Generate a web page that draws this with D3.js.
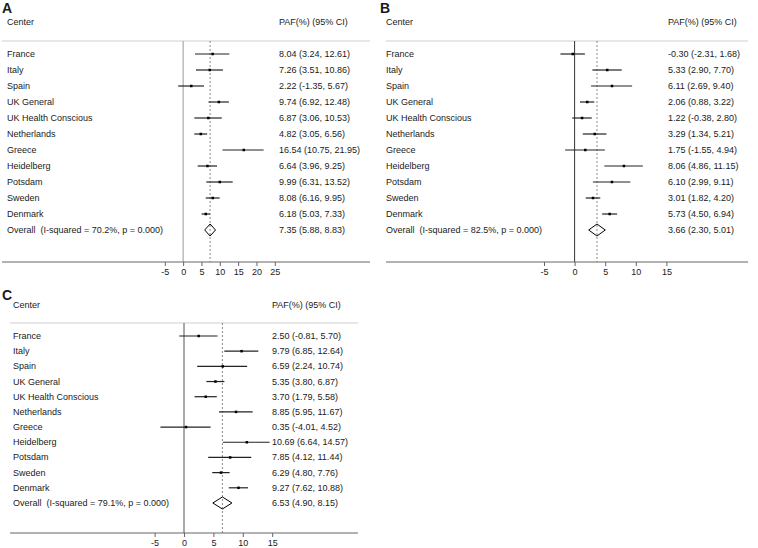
<!DOCTYPE html>
<html>
<head>
<meta charset="utf-8">
<script src="https://cdn.jsdelivr.net/npm/d3@7"></script>
<style>
  html, body { margin: 0; padding: 0; background: #fff; }
  svg { display: block; }
  text { font-family: "Liberation Sans", Arial, sans-serif; fill: #1a1a1a; }
</style>
</head>
<body>
<svg id="chart" width="758" height="548"></svg>
<script>
// ---------- data ----------
const centers = ["France", "Italy", "Spain", "UK General", "UK Health Conscious", "Netherlands",
                 "Greece", "Heidelberg", "Potsdam", "Sweden", "Denmark"];

const estA = [8.04, 7.26, 2.22, 9.74, 6.87, 4.82, 16.54, 6.64, 9.99, 8.08, 6.18];
const loA  = [3.24, 3.51, -1.35, 6.92, 3.06, 3.05, 10.75, 3.96, 6.31, 6.16, 5.03];
const hiA  = [12.61, 10.86, 5.67, 12.48, 10.53, 6.56, 21.95, 9.25, 13.52, 9.95, 7.33];
const overallA = [7.35, 5.88, 8.83];
const isqA = "70.2%";

const estB = [-0.30, 5.33, 6.11, 2.06, 1.22, 3.29, 1.75, 8.06, 6.10, 3.01, 5.73];
const loB  = [-2.31, 2.90, 2.69, 0.88, -0.38, 1.34, -1.55, 4.86, 2.99, 1.82, 4.50];
const hiB  = [1.68, 7.70, 9.40, 3.22, 2.80, 5.21, 4.94, 11.15, 9.11, 4.20, 6.94];
const overallB = [3.66, 2.30, 5.01];
const isqB = "82.5%";

const estC = [2.50, 9.79, 6.59, 5.35, 3.70, 8.85, 0.35, 10.69, 7.85, 6.29, 9.27];
const loC  = [-0.81, 6.85, 2.24, 3.80, 1.79, 5.95, -4.01, 6.64, 4.12, 4.80, 7.62];
const hiC  = [5.70, 12.64, 10.74, 6.87, 5.58, 11.67, 4.52, 14.57, 11.44, 7.76, 10.88];
const overallC = [6.53, 4.90, 8.15];
const isqC = "79.1%";

const ticksA = [-5, 0, 5, 10, 15, 20, 25];
const ticksB = [-5, 0, 5, 10, 15];
const ticksC = [-5, 0, 5, 10, 15];

const headerLeft = "Center";
const headerRight = "PAF(%) (95% CI)";

// ---------- drawing ----------
const svg = d3.select("#chart");
const locale = d3.formatLocale({decimal: ".", thousands: ",", grouping: [3], currency: ["", ""], minus: "-"});
const fmt = locale.format(".2f");
const fmtInt = locale.format("d");

function drawPanel(p) {
  const g = svg.append("g");
  const n = p.est.length;
  const x = d3.scaleLinear().domain(p.domain).range(p.range);
  const y = d3.scaleLinear().domain([0, n]).range([p.row0, p.row0 + n * p.step]);

  // panel letter
  g.append("text").attr("x", p.letterX).attr("y", p.letterY)
    .attr("font-size", 14).attr("font-weight", "bold").text(p.letter);

  // headers
  g.append("text").attr("x", p.textX).attr("y", p.headY).attr("font-size", 9).text(headerLeft);
  g.append("text").attr("x", p.ciX).attr("y", p.headY).attr("font-size", 9).text(headerRight);

  // top line
  g.append("line").attr("x1", p.lineX1).attr("x2", p.lineX2)
    .attr("y1", p.topY).attr("y2", p.topY).attr("stroke", "#cfcfcf").attr("stroke-width", 1);

  // zero line
  g.append("line").attr("x1", x(0)).attr("x2", x(0))
    .attr("y1", p.topY).attr("y2", p.axisY).attr("stroke", p.zeroColor).attr("stroke-width", 1);

  // overall dashed line
  g.append("line").attr("x1", x(p.overall[0])).attr("x2", x(p.overall[0]))
    .attr("y1", p.topY).attr("y2", p.axisY).attr("stroke", "#888")
    .attr("stroke-width", 1).attr("stroke-dasharray", "2,2");

  // rows
  const rows = d3.range(n);
  g.selectAll(".ci").data(rows).join("line")
    .attr("x1", i => x(p.lo[i])).attr("x2", i => x(p.hi[i]))
    .attr("y1", i => y(i)).attr("y2", i => y(i))
    .attr("stroke", "#222").attr("stroke-width", 1.2);
  g.selectAll(".pt").data(rows).join("rect")
    .attr("x", i => x(p.est[i]) - 1.25).attr("y", i => y(i) - 1.25)
    .attr("width", 2.5).attr("height", 2.5).attr("fill", "#000");
  g.selectAll(".lab").data(rows).join("text")
    .attr("x", p.textX).attr("y", i => y(i) + 3).attr("font-size", 9)
    .text(i => centers[i]);
  g.selectAll(".val").data(rows).join("text")
    .attr("x", p.ciX).attr("y", i => y(i) + 3).attr("font-size", 9)
    .text(i => `${fmt(p.est[i])} (${fmt(p.lo[i])}, ${fmt(p.hi[i])})`);

  // overall row
  const oy = y(n);
  const [oe, ol, oh] = p.overall;
  g.append("path")
    .attr("d", `M${x(ol)},${oy}L${x(oe)},${oy - 6}L${x(oh)},${oy}L${x(oe)},${oy + 6}Z`)
    .attr("fill", "none").attr("stroke", "#000").attr("stroke-width", 1);
  g.append("text").attr("x", p.textX).attr("y", oy + 3).attr("font-size", 9)
    .attr("xml:space", "preserve").style("white-space", "pre")
    .text(`Overall  (I-squared = ${p.isq}, p = 0.000)`);
  g.append("text").attr("x", p.ciX).attr("y", oy + 3).attr("font-size", 9)
    .text(`${fmt(oe)} (${fmt(ol)}, ${fmt(oh)})`);

  // axis
  g.append("line").attr("x1", p.lineX1).attr("x2", p.lineX2)
    .attr("y1", p.axisY).attr("y2", p.axisY).attr("stroke", "#666").attr("stroke-width", 1);
  const ax = g.append("g").attr("transform", `translate(0,${p.axisY})`)
    .call(d3.axisBottom(x).tickValues(p.ticks).tickSize(4).tickPadding(3).tickFormat(fmtInt));
  ax.select(".domain").remove();
  ax.selectAll(".tick line").attr("stroke", "#666");
  ax.selectAll(".tick text").attr("font-size", 9)
    .attr("font-family", "Liberation Sans, Arial, sans-serif").attr("fill", "#1a1a1a");
}

drawPanel({
  letter: "A", letterX: 2, letterY: 13, textX: 7, headY: 25, ciX: 279,
  lineX1: 2, lineX2: 370, topY: 41, row0: 54, step: 16, axisY: 262,
  domain: [-5, 25], range: [164.8, 274.8], zeroColor: "#999",
  est: estA, lo: loA, hi: hiA, overall: overallA, isq: isqA, ticks: ticksA
});
drawPanel({
  letter: "B", letterX: 380, letterY: 13, textX: 386, headY: 25, ciX: 668,
  lineX1: 386, lineX2: 748, topY: 41, row0: 54, step: 16, axisY: 262,
  domain: [-5, 15], range: [544, 666.4], zeroColor: "#333",
  est: estB, lo: loB, hi: hiB, overall: overallB, isq: isqB, ticks: ticksB
});
drawPanel({
  letter: "C", letterX: 2, letterY: 300, textX: 13, headY: 308, ciX: 272,
  lineX1: 10, lineX2: 358, topY: 323, row0: 336, step: 15.18, axisY: 533,
  domain: [-5, 15], range: [154.6, 272.2], zeroColor: "#555",
  est: estC, lo: loC, hi: hiC, overall: overallC, isq: isqC, ticks: ticksC
});
</script>
</body>
</html>
